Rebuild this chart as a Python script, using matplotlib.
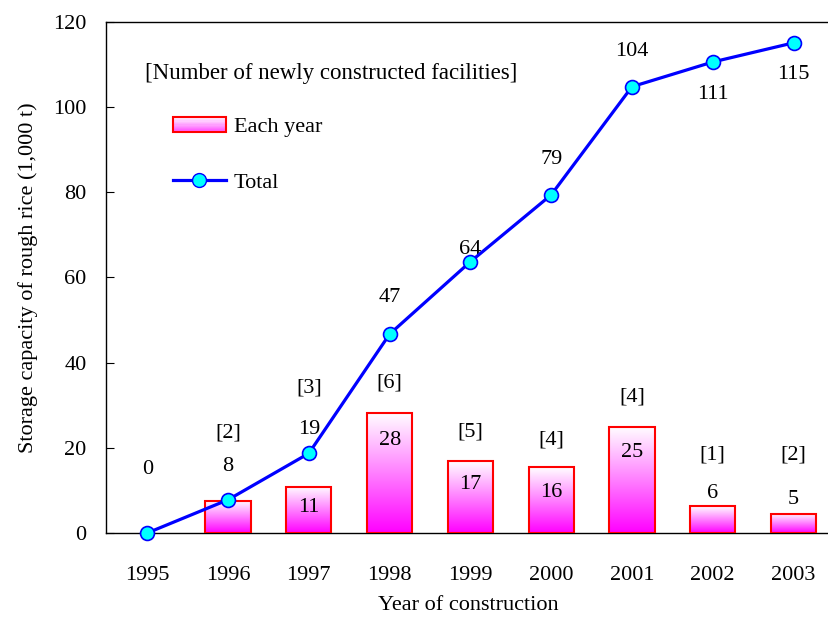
import numpy as np
import matplotlib.pyplot as plt
from matplotlib.patches import Rectangle
from matplotlib.lines import Line2D
from matplotlib.legend_handler import HandlerBase
from matplotlib.colors import LinearSegmentedColormap

plt.rcParams['font.family'] = ['Liberation Serif', 'DejaVu Serif']

years = ['1995', '1996', '1997', '1998', '1999', '2000', '2001', '2002', '2003']
each_year = [0, 7.6, 10.9, 28.2, 16.8, 15.4, 25.0, 6.3, 4.5]
total = [0, 7.8, 18.7, 46.7, 63.7, 79.4, 104.8, 110.6, 115.1]
each_labels = ['', '', '11', '28', '17', '16', '25', '6', '5']
total_labels = ['0', '8', '19', '47', '64', '79', '104', '111', '115']
facilities = ['', '[2]', '[3]', '[6]', '[5]', '[4]', '[4]', '[1]', '[2]']

# where the text sits (data units)
each_label_y = [0, 0, 5.9, 21.8, 11.3, 9.4, 18.8, 9.2, 7.8]
total_label_y = [15.0, 15.7, 24.2, 55.2, 66.5, 87.8, 113.0, 103.0, 107.6]
fac_label_y = [0, 23.5, 34.0, 35.2, 23.7, 21.8, 31.9, 18.3, 18.3]

FS = 16
cmap = LinearSegmentedColormap.from_list('wm', ['#ff00ff', '#ff80ff', '#ffffff'])


class GradientHandler(HandlerBase):
    def create_artists(self, legend, orig, xd, yd, w, h, fs, trans):
        arts = []
        n = 12
        for i in range(n):
            c = cmap(0.3 + 0.7 * (i + 0.5) / n)
            r = Rectangle((xd, yd + h * i / n), w, h / n + 0.3, facecolor=c,
                          edgecolor='none', transform=trans)
            arts.append(r)
        arts.append(Rectangle((xd, yd), w, h, facecolor='none', edgecolor='red',
                              lw=1.5, transform=trans))
        return arts


fig, ax = plt.subplots(figsize=(8.29, 6.19), dpi=100)
fig.subplots_adjust(left=0.128, right=1.002, top=0.9645, bottom=0.139)

x = np.arange(len(years))
w = 0.56
grad = np.linspace(0, 1, 256).reshape(-1, 1)
for xi, h in zip(x, each_year):
    if h <= 0:
        continue
    ax.imshow(grad, extent=[xi - w / 2, xi + w / 2, 0, h], origin='lower',
              aspect='auto', cmap=cmap, vmin=0, vmax=1, zorder=2)
    ax.add_patch(Rectangle((xi - w / 2, 0), w, h, facecolor='none',
                           edgecolor='red', lw=1.5, zorder=3))

ax.plot(x, total, color='#0000ff', lw=2.3, marker='o', markersize=10,
        markerfacecolor='#00ffff', markeredgecolor='#0000ff', markeredgewidth=1.2,
        zorder=5, clip_on=False)

for xi, t, ty in zip(x, total_labels, total_label_y):
    ax.text(xi, ty, t, ha='center', va='center', fontsize=FS)
for xi, t, ty in zip(x, each_labels, each_label_y):
    if t:
        ax.text(xi, ty, t, ha='center', va='center', fontsize=FS, zorder=6)
for xi, t, ty in zip(x, facilities, fac_label_y):
    if t:
        ax.text(xi, ty, t, ha='center', va='center', fontsize=FS)

ax.set_xlim(-0.51, 8.46)
ax.set_ylim(0, 120)
ax.set_yticks(range(0, 121, 20))
ax.set_xticks(x)
ax.set_xticklabels(years)
ax.tick_params(axis='x', length=0, pad=24, labelsize=FS)
ax.tick_params(axis='y', direction='in', length=6, pad=14, labelsize=FS)
ax.spines['right'].set_visible(False)
for s in ['left', 'top', 'bottom']:
    ax.spines[s].set_linewidth(1.0)

ax.set_xlabel('Year of construction', fontsize=FS, labelpad=8)
ax.set_ylabel('Storage capacity of rough rice (1,000 t)', fontsize=FS, labelpad=11)

ax.text(0.054, 0.9, '[Number of newly constructed facilities]', transform=ax.transAxes,
        fontsize=16.5, ha='left', va='center')

bar_handle = Rectangle((0, 0), 1, 1)
line_handle = Line2D([], [], color='#0000ff', lw=2.3, marker='o', markersize=10,
                     markerfacecolor='#00ffff', markeredgecolor='#0000ff')
ax.legend([bar_handle, line_handle], ['Each year', 'Total'],
          handler_map={Rectangle: GradientHandler()},
          loc='upper left', bbox_to_anchor=(0.092, 0.815), frameon=False,
          borderpad=0, borderaxespad=0,
          fontsize=FS, handlelength=2.4, labelspacing=1.6, handletextpad=0.35)

fig.savefig('out.png', dpi=100)
